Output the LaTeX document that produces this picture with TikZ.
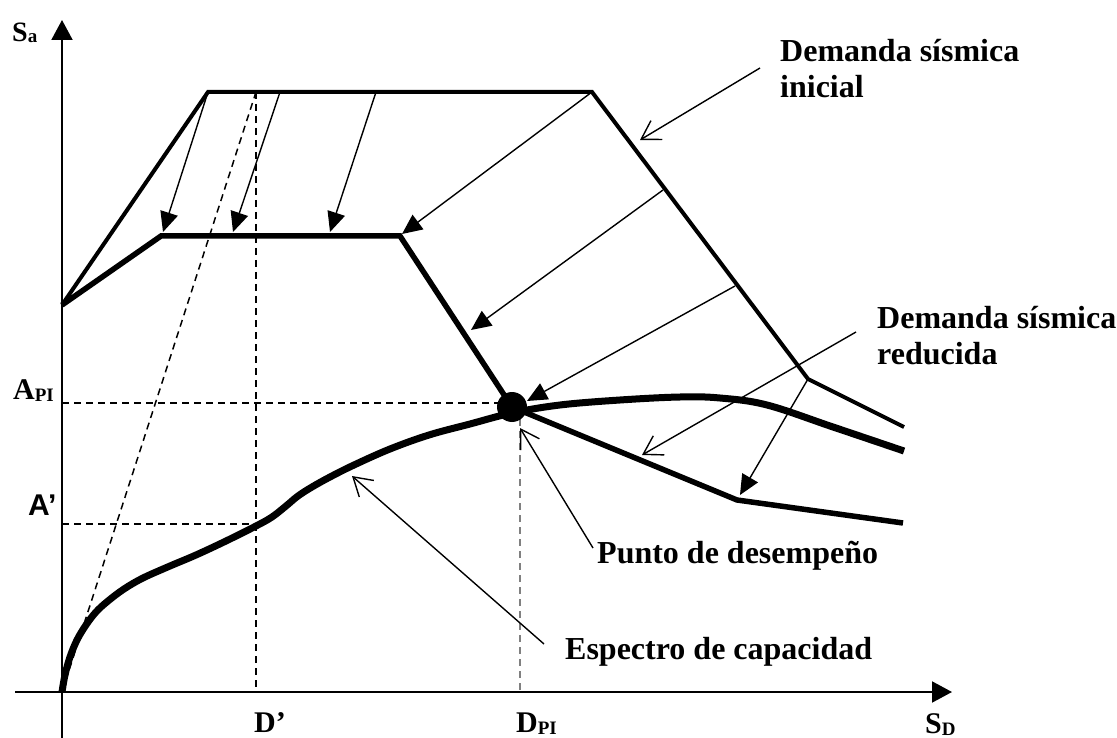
\documentclass[tikz,border=0pt]{standalone}
\usepackage{fontspec}
\setmainfont{Liberation Serif}
\newfontfamily\sansfont{Liberation Sans}
\usetikzlibrary{arrows.meta}
\newcommand{\lblsub}[1]{\raisebox{-2pt}{\fontsize{19}{19}\selectfont #1}}

\begin{document}
\begin{tikzpicture}[x=1pt,y=-1pt,
    axis/.style={line width=2pt,-{Triangle[length=20pt,width=21pt]}},
    redarrow/.style={line width=1.4pt,-{Triangle[length=20pt,width=18pt]}},
    leader/.style={line width=1.4pt,-{Straight Barb[length=18pt,width=22pt]}},
    guide/.style={line width=1.5pt,dash pattern=on 7pt off 5pt},
    lbl/.style={font=\bfseries\fontsize{32}{36}\selectfont,inner sep=0pt,align=left},
    axlbl/.style={font=\bfseries\fontsize{30}{30}\selectfont,inner sep=0pt,anchor=base west}]
    \useasboundingbox (0,0) rectangle (1117,738);
    \coordinate (O) at (62,692);
    \coordinate (ytip) at (62,20);
    \coordinate (ybot) at (62,738);
    \coordinate (xbeg) at (15,692);
    \coordinate (xtip) at (952,692);
    % demanda inicial
    \coordinate (i0) at (62,305);
    \coordinate (i1) at (208,92);
    \coordinate (i2) at (592,92);
    \coordinate (i3) at (808,379);
    \coordinate (i4) at (904,427);
    % demanda reducida
    \coordinate (r1) at (161,236);
    \coordinate (r2) at (400,236);
    \coordinate (pd) at (512,407);
    \coordinate (r3) at (737,500);
    \coordinate (r4) at (903,523);
    % guias
    \coordinate (apy) at (62,403);
    \coordinate (ap) at (62,524);
    \coordinate (dtop) at (256,92);
    \coordinate (dp) at (256,692);
    \coordinate (dpi) at (520,692);
    \draw[guide] (apy) -- (apy -| pd);
    \draw[guide] (ap) -- (ap -| dp);
    \draw[guide] (dtop) -- (dp);
    \draw[guide] (O) -- (dtop);
    \draw[guide,gray,line width=1.2pt] (pd -| dpi) -- (dpi);
    \draw[axis] (ybot) -- (ytip);
    \draw[axis] (xbeg) -- (xtip);
    \draw[line width=4pt,line join=miter] (i0) -- (i1) -- (i2) -- (i3) -- (i4);
    \draw[line width=5.5pt,line join=miter] (i0) -- (r1) -- (r2) -- (pd) -- (r3) -- (r4);
    \draw[line width=7pt,smooth,tension=0.6] plot coordinates {(62,692) (65,675) (70,657) (77,640) (86,625) (96,612) (108,601) (124,589) (143,578) (170,566) (196,555) (226,541) (256,526) (272,517) (286,506) (298,496) (312,487) (330,477) (354,465) (390,449) (429,435) (470,424) (512,413) (560,405) (620,400) (680,397) (720,398) (767,405) (833,427) (904,451)};
    \fill (pd) circle[radius=15pt];
    % flechas de reduccion
    \coordinate (t1) at (163,232);
    \coordinate (s2) at (280,92);
    \coordinate (t2) at (233,232);
    \coordinate (s3) at (376,92);
    \coordinate (t3) at (330,232);
    \coordinate (t4) at (402,234);
    \coordinate (s5) at (663,190);
    \coordinate (t5) at (471,330);
    \coordinate (s6) at (735,286);
    \coordinate (t6) at (527,401);
    \coordinate (t7) at (740,495);
    \draw[redarrow] (i1) -- (t1);
    \draw[redarrow] (s2) -- (t2);
    \draw[redarrow] (s3) -- (t3);
    \draw[redarrow] (i2) -- (t4);
    \draw[redarrow] (s5) -- (t5);
    \draw[redarrow] (s6) -- (t6);
    \draw[redarrow] (i3) -- (t7);
    % textos
    \node[lbl,anchor=north west] (inicial) at (780,39) {Demanda sísmica\\inicial};
    \node[lbl,anchor=north west] (reducida) at (877,306) {Demanda sísmica\\reducida};
    \node[lbl,anchor=base west] (punto) at (597,563) {Punto de desempeño};
    \node[lbl,anchor=base west] (espectro) at (565,659) {Espectro de capacidad};
    \coordinate (li) at (760,68);
    \coordinate (lit) at (640,140);
    \coordinate (lr) at (856,332);
    \coordinate (lrt) at (642,455);
    \coordinate (lp) at (593,548);
    \coordinate (lpt) at (520,428);
    \coordinate (le) at (544,644);
    \coordinate (let) at (352,476);
    \draw[leader] (li) -- (lit);
    \draw[leader] (lr) -- (lrt);
    \draw[leader] (lp) -- (lpt);
    \draw[leader] (le) -- (let);
    \node[axlbl,font=\bfseries\fontsize{28}{28}\selectfont] (sa) at (12,42) {S\raisebox{-1pt}{\fontsize{19}{19}\selectfont a}};
    \node[axlbl] (api) at (13,399) {A\lblsub{PI}};
    \node[axlbl,font=\sansfont\bfseries\fontsize{30}{30}\selectfont] (aprima) at (28,515) {A’};
    \node[axlbl] (dprima) at (254,732) {D’};
    \node[axlbl] (dpil) at (516,732) {D\lblsub{PI}};
    \node[axlbl] (sd) at (925,733) {S\lblsub{D}};
\end{tikzpicture}
\end{document}
